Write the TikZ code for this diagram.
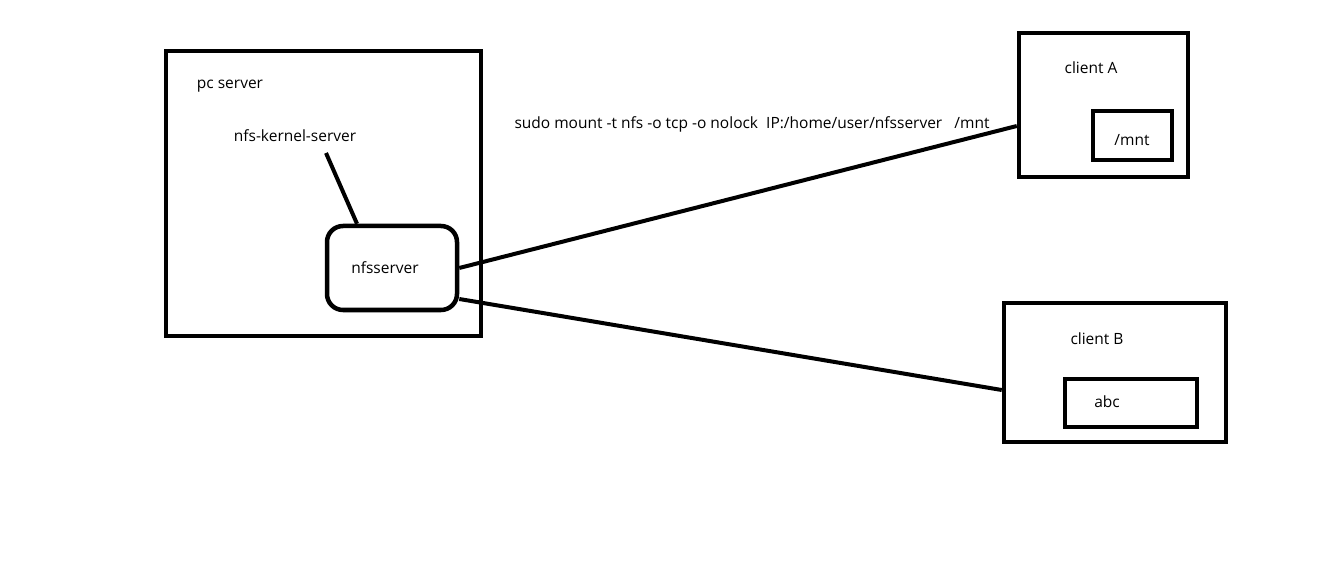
\documentclass[tikz,border=0pt]{standalone}
\usepackage{fontspec}
\setmainfont{Open Sans}
\tikzset{
  box/.style={draw, line width=4.5pt, inner sep=0pt},
  rbox/.style={box, rounded corners=16pt},
  link/.style={line width=4pt},
  lbl/.style={inner sep=0pt, font=\fontsize{15.5}{18}\selectfont}
}
\begin{document}
\begin{tikzpicture}[x=1pt,y=-1pt]
  \useasboundingbox[fill=white] (0,0) rectangle (1341,577);
  % Server
  \node[box, minimum width=315pt, minimum height=285pt] (pc) at (323.5,193.5) {};
  \node[lbl] (pclbl) at (230,86) {pc server};
  \node[lbl] (kernel) at (295,136) {nfs-kernel-server};
  \node[rbox, minimum width=130pt, minimum height=84pt] (nfs) at (392,268) {};
  \node[lbl] (nfslbl) at (385,268) {nfsserver};
  \coordinate (ktip) at (326,153);
  \draw[link] (ktip) -- ([xshift=-35pt]nfs.north);
  % Clients
  \node[box, minimum width=169pt, minimum height=144pt] (clientA) at (1103.5,105) {};
  \node[lbl] (alab) at (1091,68) {client A};
  \node[box, minimum width=79pt, minimum height=49pt] (mnt) at (1132.5,135.5) {};
  \node[lbl] (mntlbl) at (1132,140) {/mnt};
  \node[box, minimum width=222pt, minimum height=139pt] (clientB) at (1115,372.5) {};
  \node[lbl] (blab) at (1097,339) {client B};
  \node[box, minimum width=132pt, minimum height=48pt] (abc) at (1131,403) {};
  \node[lbl] (abclbl) at (1107,402) {abc};
  % Verbindungen
  \node[lbl] (cmd) at (752,124) {sudo mount -t nfs -o tcp -o nolock\ \ IP:/home/user/nfsserver\ \ \ /mnt};
  \draw[link] (nfs.east) -- ([yshift=-21pt]clientA.west);
  \draw[link] ([yshift=-31pt]nfs.east) -- ([yshift=-17.5pt]clientB.west);
\end{tikzpicture}
\end{document}
